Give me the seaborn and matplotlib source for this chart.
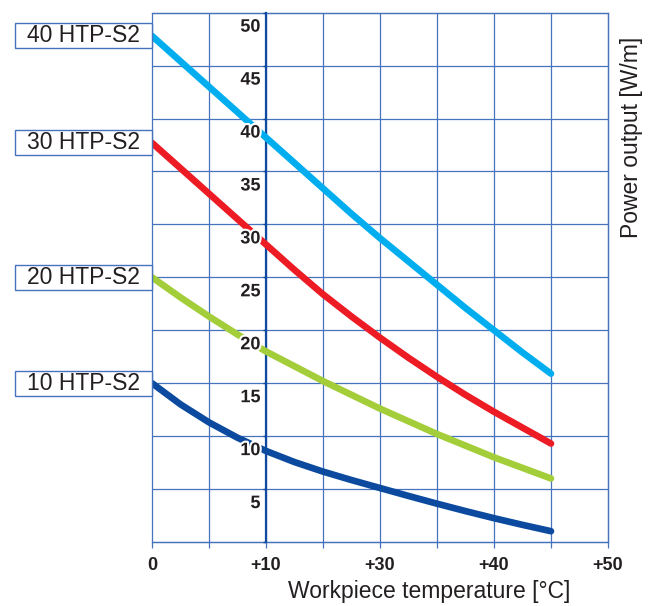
import numpy as np
import pandas as pd
import matplotlib
matplotlib.use("Agg")
import matplotlib.pyplot as plt
import matplotlib.transforms as mtransforms
import matplotlib.patheffects as pe
from matplotlib.patches import Rectangle
import seaborn as sns

# ---------------- data ----------------
# x positions in grid units (one grid cell = 5), read every half cell
temp_pos = [0, 2.5, 5, 7.5, 10, 12.5, 15, 17.5, 20, 22.5, 25, 27.5, 30, 32.5, 35]
series_names = ["40 HTP-S2", "30 HTP-S2", "20 HTP-S2", "10 HTP-S2"]
power_40 = [47.8, 45.4, 43.0, 40.6, 38.2, 35.8, 33.4, 31.0, 28.7, 26.5, 24.3, 22.1, 20.0, 17.9, 15.9]
power_30 = [37.7, 35.3, 32.9, 30.5, 28.1, 25.7, 23.4, 21.3, 19.3, 17.4, 15.6, 13.9, 12.3, 10.8, 9.3]
power_20 = [25.0, 23.1, 21.3, 19.6, 18.0, 16.6, 15.2, 13.9, 12.6, 11.4, 10.2, 9.1, 8.0, 7.0, 6.0]
power_10 = [15.0, 13.0, 11.3, 9.85, 8.6, 7.55, 6.65, 5.85, 5.1, 4.35, 3.62, 2.92, 2.25, 1.62, 1.02]
series_colors = ["#00aeef", "#ed1c24", "#a3cd39", "#0b4a9e"]

xtick_pos = [0, 10, 20, 30, 40]
xtick_labels = ["0", "+10", "+30", "+40", "+50"]
xminor_pos = [5, 15, 25, 35]
ytick_pos = [0, 5, 10, 15, 20, 25, 30, 35, 40, 45, 50]
ytick_labels = ["", "5", "10", "15", "20", "25", "30", "35", "40", "45", "50"]
x_label = "Workpiece temperature [°C]"
y_label = "Power output [W/m]"

rows = []
for name, vals in zip(series_names, [power_40, power_30, power_20, power_10]):
    for x, v in zip(temp_pos, vals):
        rows.append({"x": x, "y": v, "series": name})
df = pd.DataFrame(rows)

# ---------------- style ----------------
sns.set_theme(style="white")
plt.rcParams["font.family"] = ["Liberation Sans", "DejaVu Sans"]

grid_color = "#4673bb"
axis_color = "#0d4aa0"
text_color = "#231f20"

fig = plt.figure(figsize=(6.57, 6.06), dpi=100)
ax = fig.add_axes([0.2314, 0.1056, 0.694, 0.8735])
ax.set_axisbelow(False)

# grid lines drawn beneath the curves
for xv in list(xtick_pos) + list(xminor_pos):
    ax.axvline(xv, color=grid_color, lw=0.9, zorder=0.5, clip_on=False)
for yv in ytick_pos:
    ax.axhline(yv, color=grid_color, lw=0.9, zorder=0.5, clip_on=False)

sns.lineplot(data=df, x="x", y="y", hue="series", hue_order=series_names,
             palette=series_colors, linewidth=4.8, legend=False, sort=False,
             ax=ax, solid_capstyle="round", solid_joinstyle="round", zorder=2)

ax.set_xlim(0, 40)
ax.set_ylim(0, 50)

# spines
for s in ["top", "right", "bottom"]:
    ax.spines[s].set_color(grid_color)
    ax.spines[s].set_linewidth(0.9)
    ax.spines[s].set_zorder(0.6)
ax.spines["left"].set_position(("data", 10))
ax.spines["left"].set_color(axis_color)
ax.spines["left"].set_linewidth(1.6)
ax.spines["left"].set_zorder(1)

# x ticks
ax.set_xticks(xtick_pos)
ax.set_xticklabels(xtick_labels)
ax.set_xticks(xminor_pos, minor=True)
ax.tick_params(axis="x", which="both", direction="out", length=4.5, width=0.9,
               color=grid_color, bottom=True)
ax.tick_params(axis="x", which="major", pad=6, labelsize=13, labelcolor=text_color)
for lab in ax.get_xticklabels():
    lab.set_fontweight("bold")

# y ticks
ax.set_yticks(ytick_pos)
ax.set_yticklabels(ytick_labels)
ax.tick_params(axis="y", which="major", direction="out", length=2.5, width=1.0,
               color=axis_color, left=True, pad=1.5, labelsize=13, labelcolor=text_color)
offset = mtransforms.ScaledTranslation(0, -12.5 / 100.0, fig.dpi_scale_trans)
for lab in ax.get_yticklabels():
    lab.set_fontweight("bold")
    lab.set_transform(lab.get_transform() + offset)
    lab.set_path_effects([pe.withStroke(linewidth=3, foreground="white")])
    lab.set_zorder(5)

# axis labels
ax.set_xlabel(x_label, fontsize=16.5, color=text_color)
ax.xaxis.set_label_coords(0.6075, -0.094)
ax.xaxis.label.set_va("center")
ax.xaxis.label.set_ha("center")

ax.set_ylabel(y_label, fontsize=16.5, color=text_color, rotation=90)
ax.yaxis.set_label_position("right")
ax.yaxis.set_label_coords(1.0526, 0.764)
ax.yaxis.label.set_va("center")
ax.yaxis.label.set_ha("center")

# series name boxes at the start of each curve
blend = mtransforms.blended_transform_factory(ax.transAxes, ax.transData)
box_left = -0.3004
box_h = 2.36
for name, vals in zip(series_names, [power_40, power_30, power_20, power_10]):
    y0 = vals[0]
    rect = Rectangle((box_left, y0 - box_h / 2), -box_left, box_h, transform=blend,
                     facecolor="white", edgecolor=grid_color, lw=1.0, clip_on=False,
                     zorder=3)
    ax.add_patch(rect)
    ax.text(box_left / 2, y0, name, transform=blend, ha="center", va="center",
            fontsize=16.5, color=text_color, clip_on=False, zorder=4)

fig.savefig("out.png", dpi=100)
